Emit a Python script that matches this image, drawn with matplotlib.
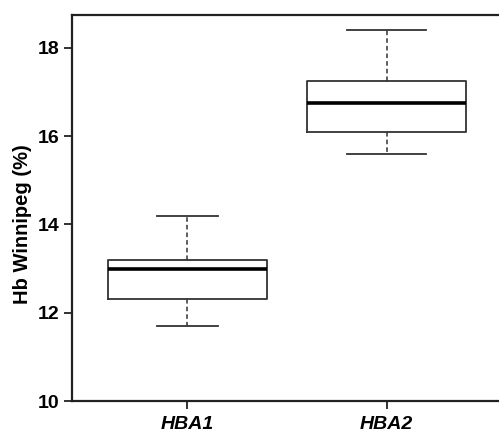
import matplotlib
matplotlib.use("Agg")
from matplotlib import pyplot as plt

# box statistics
grupos = ["HBA1", "HBA2"]
minimo = [11.7, 15.6]
q1 = [12.3, 16.1]
mediana = [13.0, 16.75]
q3 = [13.2, 17.25]
maximo = [14.2, 18.4]

plt.rcParams['font.family'] = ['Liberation Sans', 'DejaVu Sans']

stats = []
for i in range(len(grupos)):
    stats.append({"label": grupos[i], "whislo": minimo[i], "q1": q1[i],
                  "med": mediana[i], "q3": q3[i], "whishi": maximo[i],
                  "fliers": []})

fig = plt.figure(figsize=(4.99, 4.34), dpi=100)
ax = fig.add_axes([0.1443, 0.076, 0.8557, 0.8894])

cinza = "#333333"
ax.bxp(stats, positions=[1, 2], widths=0.8, capwidths=[0.31, 0.4],
       showfliers=False,
       boxprops=dict(color=cinza, linewidth=1.3),
       medianprops=dict(color="black", linewidth=2.6),
       whiskerprops=dict(color=cinza, linewidth=1.1, linestyle=(0, (3, 2))),
       capprops=dict(color=cinza, linewidth=1.3))

ax.set_xlim(0.42, 2.565)
ax.set_ylim(10, 18.74)
ax.set_yticks([10, 12, 14, 16, 18])
ax.set_xticks([1, 2])
ax.set_xticklabels(grupos, fontsize=14, fontweight="bold", fontstyle="italic")
for t in ax.get_yticklabels():
    t.set_fontsize(14)
    t.set_fontweight("bold")

ax.spines["right"].set_visible(False)
for s in ["left", "bottom", "top"]:
    ax.spines[s].set_linewidth(1.6)
    ax.spines[s].set_color("#222222")
ax.tick_params(axis="y", length=6, width=1.3, color="#222222", pad=3)
ax.tick_params(axis="x", length=6, width=1.3, color="#222222", pad=4.5)

ax.set_ylabel("Hb Winnipeg (%)", fontsize=14.5, fontweight="bold")
ax.yaxis.set_label_coords(-0.094, 0.458)

fig.savefig("out.png", dpi=100)
